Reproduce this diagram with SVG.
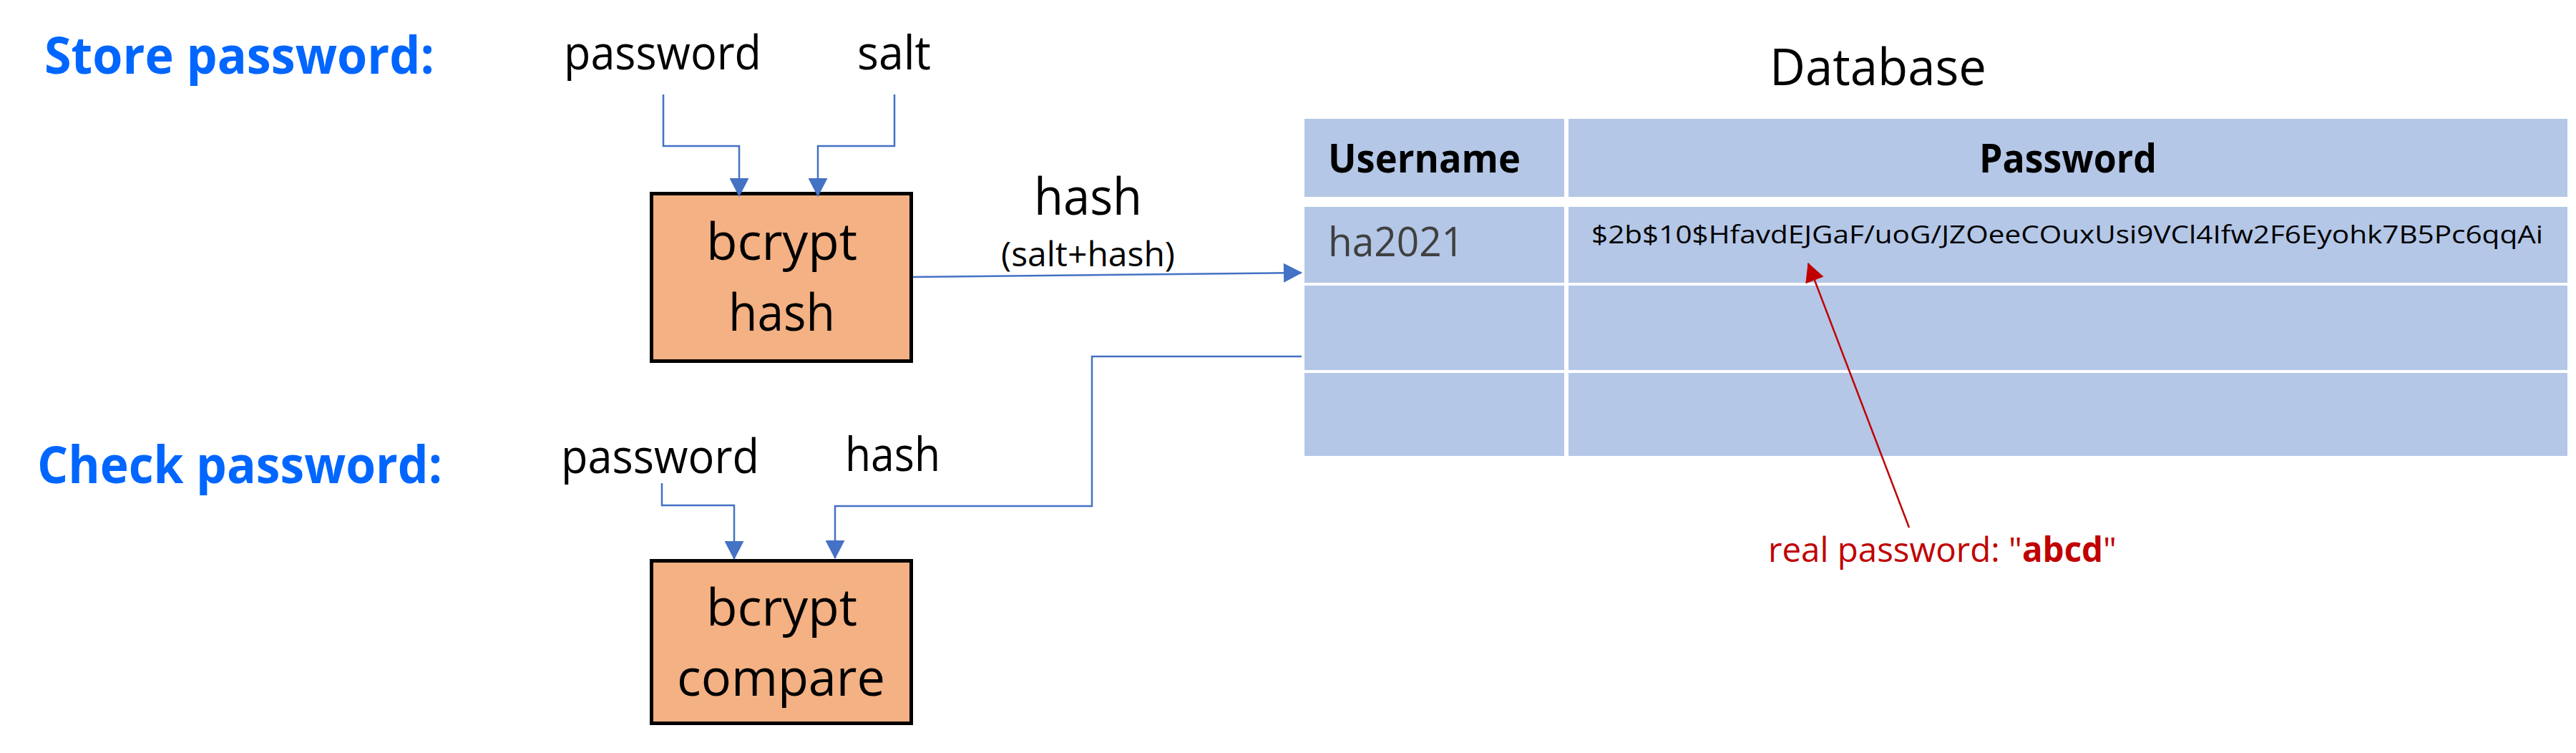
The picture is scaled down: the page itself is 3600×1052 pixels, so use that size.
<svg xmlns="http://www.w3.org/2000/svg" width="3600" height="1052" viewBox="0 0 3600 1052">
<style>
text { font-family: "Open Sans", "Noto Sans", "Liberation Sans", sans-serif; fill: #000; }
.head { font-weight: bold; font-size: 72px; fill: #0066FF; }
.lbl { font-size: 66px; }
.big { font-size: 72px; }
.th { font-weight: bold; font-size: 56px; }
.cell { fill: #B4C7E7; }
.box { fill: #F4B183; stroke: #000; stroke-width: 5; }
.conn { fill: none; stroke: #4472C4; stroke-width: 2.5; }
.red { fill: none; stroke: #C00000; stroke-width: 2.5; }
</style>
<defs>
<marker id="ab" markerUnits="userSpaceOnUse" markerWidth="27" markerHeight="27" viewBox="0 0 26 27" refX="25" refY="13.5" orient="auto">
<path d="M0,0 L26,13.5 L0,27 Z" fill="#4472C4"/>
</marker>
<marker id="ar" markerUnits="userSpaceOnUse" markerWidth="27" markerHeight="27" viewBox="0 0 26 27" refX="25" refY="13.5" orient="auto">
<path d="M0,0 L26,13.5 L0,27 Z" fill="#C00000"/>
</marker>
</defs>

<g id="title-store"><text class="head" x="62" y="103" textLength="545" lengthAdjust="spacingAndGlyphs">Store password:</text></g>
<g id="title-check"><text class="head" x="52" y="675" textLength="566" lengthAdjust="spacingAndGlyphs">Check password:</text></g>

<g id="in-password1"><text class="lbl" x="788" y="97" textLength="276" lengthAdjust="spacingAndGlyphs">password</text></g>
<g id="in-salt"><text class="lbl" x="1198" y="97" textLength="103" lengthAdjust="spacingAndGlyphs">salt</text></g>
<g id="in-password2"><text class="lbl" x="784" y="661" textLength="277" lengthAdjust="spacingAndGlyphs">password</text></g>
<g id="in-hash"><text class="lbl" x="1181" y="658" textLength="133" lengthAdjust="spacingAndGlyphs">hash</text></g>

<g id="bcrypt-hash">
<rect class="box" x="910.5" y="270.5" width="363" height="234"/>
<text class="big" x="987" y="363" textLength="211" lengthAdjust="spacingAndGlyphs">bcrypt</text>
<text class="big" x="1018" y="462" textLength="149" lengthAdjust="spacingAndGlyphs">hash</text>
</g>

<g id="bcrypt-compare">
<rect class="box" x="910.5" y="783.5" width="363" height="227"/>
<text class="big" x="987" y="874" textLength="211" lengthAdjust="spacingAndGlyphs">bcrypt</text>
<text class="big" x="946" y="972" textLength="291" lengthAdjust="spacingAndGlyphs">compare</text>
</g>

<g id="hash-label">
<text class="big" x="1445" y="300" textLength="151" lengthAdjust="spacingAndGlyphs">hash</text>
<text x="1399" y="372" font-size="48" textLength="243" lengthAdjust="spacingAndGlyphs">(salt+hash)</text>
</g>

<g id="database">
<text class="big" x="2473" y="119" textLength="303" lengthAdjust="spacingAndGlyphs">Database</text>
<rect class="cell" x="1823" y="166" width="363" height="109"/>
<rect class="cell" x="2192" y="166" width="1396" height="109"/>
<rect class="cell" x="1823" y="289" width="363" height="106"/>
<rect class="cell" x="2192" y="289" width="1396" height="106"/>
<rect class="cell" x="1823" y="399" width="363" height="118"/>
<rect class="cell" x="2192" y="399" width="1396" height="118"/>
<rect class="cell" x="1823" y="521" width="363" height="116"/>
<rect class="cell" x="2192" y="521" width="1396" height="116"/>
<text class="th" x="1856" y="241" textLength="269" lengthAdjust="spacingAndGlyphs">Username</text>
<text class="th" x="2766" y="241" textLength="248" lengthAdjust="spacingAndGlyphs">Password</text>
<text x="1856" y="358" font-size="56" fill="#404040" style="fill:#404040" textLength="190" lengthAdjust="spacingAndGlyphs">ha2021</text>
<text x="2224" y="340" font-size="34" textLength="1330" lengthAdjust="spacingAndGlyphs">$2b$10$HfavdEJGaF/uoG/JZOeeCOuxUsi9VCl4Ifw2F6Eyohk7B5Pc6qqAi</text>
</g>

<g id="note">
<text x="2471" y="785" font-size="48" style="fill:#C00000" textLength="487" lengthAdjust="spacingAndGlyphs">real password: "<tspan font-weight="bold">abcd</tspan>"</text>
</g>

<g id="connectors">
<path class="conn" d="M927,132 V204 H1033 V274" marker-end="url(#ab)"/>
<path class="conn" d="M1250,132 V204 H1143 V274" marker-end="url(#ab)"/>
<path class="conn" d="M1276,387 L1819,381" marker-end="url(#ab)"/>
<path class="conn" d="M925,675 V706 H1026 V781" marker-end="url(#ab)"/>
<path class="conn" d="M1819,498 H1526 V707 H1167 V780" marker-end="url(#ab)"/>
<path class="red" d="M2668,737 L2527,368" marker-end="url(#ar)"/>
</g>
</svg>
